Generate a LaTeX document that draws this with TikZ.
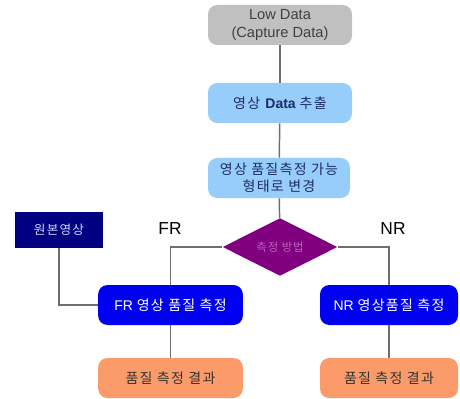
\documentclass[tikz,border=0pt]{standalone}
\usepackage{fontspec}
\setmainfont{Liberation Sans}
\newfontfamily\kr[LetterSpace=9]{Noto Sans CJK KR}
\usetikzlibrary{shapes.geometric}
\definecolor{boxgray}{RGB}{192,192,192}
\definecolor{lblue}{RGB}{150,205,250}
\definecolor{vblue}{RGB}{0,0,240}
\definecolor{navy}{RGB}{0,0,128}
\definecolor{dpurple}{RGB}{128,0,128}
\definecolor{orng}{RGB}{250,155,105}
\definecolor{conn}{RGB}{110,110,110}
\definecolor{navytext}{RGB}{30,45,100}
\begin{document}
\begin{tikzpicture}[x=0.75pt,y=-0.75pt,
  base/.style={rounded corners=7pt, inner sep=0pt, align=center, font=\fontsize{10.5}{12.5}\selectfont},
  graybox/.style={base, fill=boxgray, text=black!75, minimum width=108pt, minimum height=30pt, font=\fontsize{11}{13}\selectfont},
  lbbox/.style={base, fill=lblue, text=navytext, minimum width=108pt, minimum height=30pt},
  bluebox/.style={base, fill=vblue, text=white},
  resbox/.style={base, fill=orng, text=black!80},
  line/.style={draw=conn, line width=1.1pt}
]
\useasboundingbox (0,0) rectangle (460,399);
\node[graybox] (low) at (280,25) {Low Data\\(Capture Data)};
\node[lbbox] (ext) at (280,103) {{\kr 영상} \textbf{Data} {\kr 추출}};
\node[lbbox, minimum width=106.5pt] (conv) at (279,178) {{\kr 영상 품질측정 가능}\\{\kr 형태로 변경}};
\node[diamond, fill=dpurple, inner sep=0pt, minimum width=86pt, minimum height=26pt, text={rgb,255:red,185;green,100;blue,185}, font=\kr\fontsize{8.5}{10}\selectfont] (dia) at (280,247) {측정 방법};
\node[fill=navy, text={rgb,255:red,215;green,215;blue,255}, minimum width=66pt, minimum height=27pt, inner sep=0pt, font=\kr\fontsize{9.5}{11}\selectfont] (orig) at (59,230) {원본영상};
\node[font=\fontsize{13}{15}\selectfont] (frl) at (170,229) {FR};
\node[font=\fontsize{13}{15}\selectfont] (nrl) at (393,229) {NR};
\node[bluebox, minimum width=108.5pt, minimum height=30pt] (fr) at (170.5,305) {FR {\kr 영상 품질 측정}};
\node[resbox, minimum width=108.5pt, minimum height=30pt] (frres) at (170.5,378) {\kr 품질 측정 결과};
\node[bluebox, minimum width=103.5pt, minimum height=30pt] (nr) at (389,305) {NR {\kr 영상품질 측정}};
\node[resbox, minimum width=103.5pt, minimum height=30pt] (nrres) at (389,378) {\kr 품질 측정 결과};
\draw[line] (low) -- (ext);
\draw[line] (ext) -- (conv);
\draw[line] (conv) -- (dia);
\draw[line] (dia.west) -| (fr.north);
\draw[line] (dia.east) -| (nr.north);
\draw[line] (orig.south) |- (fr.west);
\draw[line] (fr) -- (frres);
\draw[line] (nr) -- (nrres);
\end{tikzpicture}
\end{document}
